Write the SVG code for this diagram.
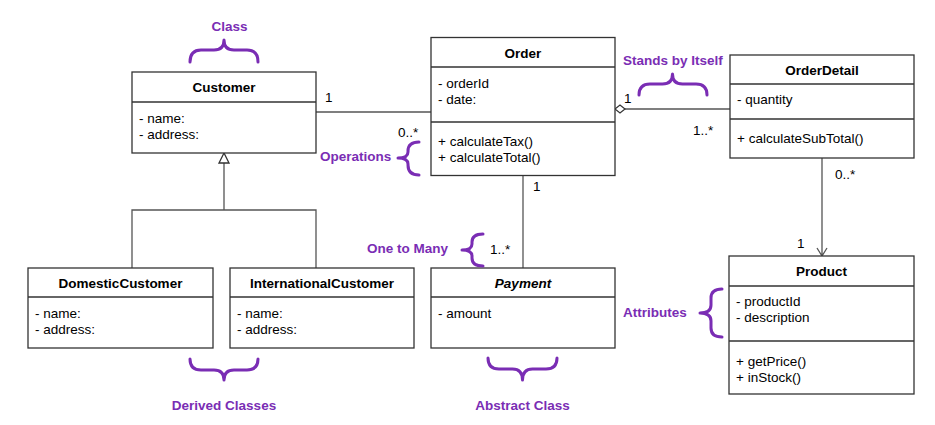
<svg xmlns="http://www.w3.org/2000/svg" width="935" height="425" viewBox="0 0 935 425">
<style>
.box{fill:#fff;stroke:#333;stroke-width:1.3}
.div{stroke:#333;stroke-width:1.3;fill:none}
.t{font-family:"Liberation Sans",Arial,sans-serif;font-size:13.5px;fill:#000}
.b{font-weight:bold;text-anchor:middle}
.i{font-style:italic}
.c{stroke:#555;stroke-width:1.3;fill:none}
.p{font-family:"Liberation Sans",Arial,sans-serif;font-size:13.5px;font-weight:bold;fill:#7a2db4}
.br{stroke:#7a2db4;stroke-width:3;fill:none;stroke-linecap:round;stroke-linejoin:round}
</style>
<rect width="935" height="425" fill="#fff"/>

<g id="connectors">
<path class="c" d="M316,112 H431"/>
<path class="c" d="M625,109 H730"/>
<path d="M615,109 L620,105 L625,109 L620,113 Z" fill="#fff" stroke="#333" stroke-width="1.2"/>
<path class="c" d="M523,175.5 V268"/>
<path class="c" d="M132,268 V210 H316 V268 M224,210 V163"/>
<path d="M224,153 L219,163 L229,163 Z" fill="#fff" stroke="#333" stroke-width="1.3"/>
<path class="c" d="M822,158 V256 M817,248 L822,256 L827,248"/>
<text class="t" x="325" y="102">1</text>
<text class="t" x="398" y="137">0..*</text>
<text class="t" x="624" y="103">1</text>
<text class="t" x="693" y="135">1..*</text>
<text class="t" x="533" y="191">1</text>
<text class="t" x="490" y="254">1..*</text>
<text class="t" x="835" y="179">0..*</text>
<text class="t" x="797" y="248">1</text>
</g>

<g id="customer">
<rect class="box" x="132" y="72" width="184" height="81"/>
<path class="div" d="M132,102 H316"/>
<text class="t b" x="224" y="92">Customer</text>
<text class="t" x="139" y="123">- name:</text>
<text class="t" x="139" y="139">- address:</text>
</g>

<g id="order">
<rect class="box" x="431" y="37.5" width="184" height="138"/>
<path class="div" d="M431,67 H615 M431,122 H615"/>
<text class="t b" x="523" y="58">Order</text>
<text class="t" x="438" y="88">- orderId</text>
<text class="t" x="438" y="104">- date:</text>
<text class="t" x="438" y="146">+ calculateTax()</text>
<text class="t" x="438" y="162">+ calculateTotal()</text>
</g>

<g id="orderdetail">
<rect class="box" x="730" y="55" width="184" height="103"/>
<path class="div" d="M730,84 H914 M730,119 H914"/>
<text class="t b" x="822" y="75">OrderDetail</text>
<text class="t" x="737" y="104">- quantity</text>
<text class="t" x="737" y="143">+ calculateSubTotal()</text>
</g>

<g id="product">
<rect class="box" x="729" y="256" width="185" height="138"/>
<path class="div" d="M729,286 H914 M729,341 H914"/>
<text class="t b" x="821.5" y="276">Product</text>
<text class="t" x="736" y="306">- productId</text>
<text class="t" x="736" y="322">- description</text>
<text class="t" x="736" y="366">+ getPrice()</text>
<text class="t" x="736" y="382">+ inStock()</text>
</g>

<g id="domesticcustomer">
<rect class="box" x="28" y="268" width="185" height="80"/>
<path class="div" d="M28,297 H213"/>
<text class="t b" x="120.5" y="288">DomesticCustomer</text>
<text class="t" x="35" y="318">- name:</text>
<text class="t" x="35" y="334">- address:</text>
</g>

<g id="internationalcustomer">
<rect class="box" x="230" y="268" width="184" height="80"/>
<path class="div" d="M230,297 H414"/>
<text class="t b" x="322" y="288">InternationalCustomer</text>
<text class="t" x="237" y="318">- name:</text>
<text class="t" x="237" y="334">- address:</text>
</g>

<g id="payment">
<rect class="box" x="431" y="268" width="184" height="80"/>
<path class="div" d="M431,297 H615"/>
<text class="t b i" x="523" y="288">Payment</text>
<text class="t" x="438" y="318">- amount</text>
</g>

<g id="annotations">
<text class="p" x="229.5" y="30.5" text-anchor="middle">Class</text>
<path class="br" d="M190,62 Q190,50 201,50 L214,50 Q224,50 224,40 Q224,50 234,50 L247,50 Q258,50 258,62"/>
<text class="p" x="224" y="410" text-anchor="middle">Derived Classes</text>
<path class="br" d="M190,359 Q190,370 201,370 L214,370 Q224,370 224,380 Q224,370 234,370 L247,370 Q258,370 258,359"/>
<text class="p" x="522.5" y="410" text-anchor="middle">Abstract Class</text>
<path class="br" d="M488,358 Q488,369 499,369 L512.5,369 Q522.5,369 522.5,380 Q522.5,369 532.5,369 L546,369 Q557,369 557,358"/>
<text class="p" x="623" y="65">Stands by Itself</text>
<path class="br" d="M639,95 Q639,84 650,84 L662.5,84 Q672.5,84 672.5,74 Q672.5,84 682.5,84 L696,84 Q707,84 707,95"/>
<text class="p" x="320" y="161">Operations</text>
<path class="br" d="M419,142 Q408,142 408,151 L408,152 Q408,158 398,158 Q408,158 408,164 L408,165 Q408,175 419,175"/>
<text class="p" x="448" y="253" text-anchor="end">One to Many</text>
<path class="br" d="M483,234 Q472,234 472,242 L472,244 Q472,250 462,250 Q472,250 472,256 L472,258 Q472,266 483,266"/>
<text class="p" x="623" y="317">Attributes</text>
<path class="br" d="M722,289 Q711,289 711,298 L711,305 Q711,313 700,313 Q711,313 711,321 L711,328 Q711,337 722,337"/>
</g>
</svg>
